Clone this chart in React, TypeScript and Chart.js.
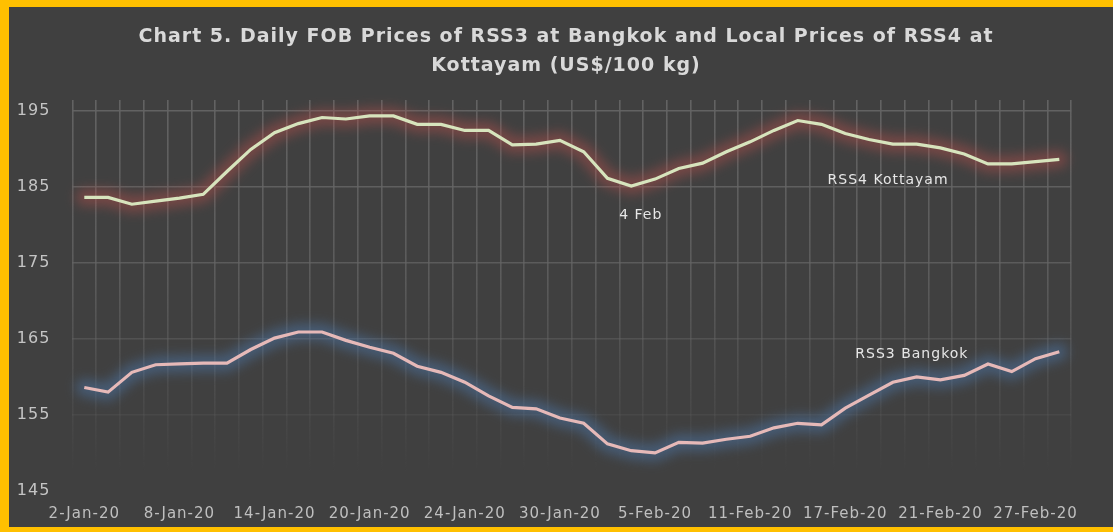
import React, { useEffect, useRef } from "react";
import { Chart, registerables } from "chart.js";

Chart.register(...registerables);

const dates = [
  "2-Jan-20", "3-Jan-20", "6-Jan-20", "7-Jan-20", "8-Jan-20", "9-Jan-20", "10-Jan-20",
  "13-Jan-20", "14-Jan-20", "15-Jan-20", "16-Jan-20", "17-Jan-20", "20-Jan-20", "21-Jan-20",
  "22-Jan-20", "23-Jan-20", "24-Jan-20", "27-Jan-20", "28-Jan-20", "29-Jan-20", "30-Jan-20",
  "31-Jan-20", "3-Feb-20", "4-Feb-20", "5-Feb-20", "6-Feb-20", "7-Feb-20", "10-Feb-20",
  "11-Feb-20", "12-Feb-20", "13-Feb-20", "14-Feb-20", "17-Feb-20", "18-Feb-20", "19-Feb-20",
  "20-Feb-20", "21-Feb-20", "24-Feb-20", "25-Feb-20", "26-Feb-20", "27-Feb-20", "28-Feb-20",
];

const rss4Kottayam = [
  183.6, 183.6, 182.7, 183.1, 183.5, 184.0, 187.0, 189.9, 192.1, 193.3,
  194.1, 193.9, 194.3, 194.3, 193.2, 193.2, 192.4, 192.4, 190.5, 190.6,
  191.1, 189.6, 186.1, 185.1, 186.0, 187.4, 188.1, 189.6, 190.9, 192.4,
  193.7, 193.2, 192.0, 191.2, 190.6, 190.6, 190.1, 189.3, 188.0, 188.0,
  188.3, 188.6,
];

const rss3Bangkok = [
  158.6, 158.0, 160.6, 161.6, 161.7, 161.8, 161.8, 163.6, 165.1, 165.9,
  165.9, 164.8, 163.9, 163.1, 161.4, 160.6, 159.3, 157.5, 156.0, 155.8,
  154.6, 153.9, 151.2, 150.3, 150.0, 151.4, 151.3, 151.8, 152.2, 153.3,
  153.9, 153.7, 155.9, 157.6, 159.3, 160.0, 159.6, 160.2, 161.7, 160.7,
  162.4, 163.3,
];

const yTicks = [145, 155, 165, 175, 185, 195];
const labelEvery = 4;

const titleLines = [
  "Chart 5. Daily FOB Prices of RSS3 at Bangkok and Local Prices of RSS4 at",
  "Kottayam (US$/100 kg)",
];

const annotationTexts = ["4 Feb", "RSS4 Kottayam", "RSS3 Bangkok"];
const annotationIndex = [23.4, 33.8, 34.8];
const annotationValue = [181.2, 185.9, 162.9];

const glowColors = ["rgba(192,80,77,0.42)", "rgba(79,129,189,0.42)"];

export default function App() {
  const ref = useRef<HTMLCanvasElement | null>(null);

  useEffect(() => {
    if (!ref.current) return;
    let grad: CanvasGradient | null = null;
    let gradKey = "";
    const gridColor = (c: any) => {
      const chart = c.chart;
      const area = chart.chartArea;
      if (!area) return "rgba(95,95,95,0.9)";
      const key = area.top + "-" + area.bottom;
      if (!grad || key !== gradKey) {
        const g = chart.ctx.createLinearGradient(0, area.top, 0, area.bottom);
        g.addColorStop(0, "rgba(100,100,100,0.95)");
        g.addColorStop(0.45, "rgba(100,100,100,0.75)");
        g.addColorStop(0.75, "rgba(100,100,100,0.3)");
        g.addColorStop(0.95, "rgba(100,100,100,0)");
        g.addColorStop(1, "rgba(100,100,100,0)");
        grad = g;
        gradKey = key;
      }
      return grad;
    };

    const spacingPlugin = {
      id: "spacing",
      beforeUpdate(chart: any) {
        chart.ctx.letterSpacing = "1px";
      },
      beforeDraw(chart: any) {
        chart.ctx.letterSpacing = "1px";
      },
    };

    const titlePlugin = {
      id: "customTitle",
      afterDraw(chart: any) {
        const ctx = chart.ctx;
        ctx.save();
        ctx.font = "bold 19px 'DejaVu Sans'";
        ctx.fillStyle = "#d9d9d9";
        ctx.textAlign = "center";
        ctx.textBaseline = "middle";
        const cx = chart.width / 2 + 5;
        ctx.fillText(titleLines[0], cx, 30);
        ctx.fillText(titleLines[1], cx, 59);
        ctx.restore();
      },
    };

    const glowPlugin = {
      id: "glow",
      beforeDatasetDraw(chart: any, args: any) {
        const ctx = chart.ctx;
        const pts = chart.getDatasetMeta(args.index).data;
        if (!pts || !pts.length) return;
        ctx.save();
        ctx.filter = "blur(6px)";
        ctx.strokeStyle = glowColors[args.index];
        ctx.lineWidth = 17;
        ctx.lineJoin = "round";
        ctx.lineCap = "round";
        ctx.beginPath();
        pts.forEach((p: any, i: number) => {
          if (i === 0) ctx.moveTo(p.x, p.y);
          else ctx.lineTo(p.x, p.y);
        });
        ctx.stroke();
        ctx.restore();
      },
    };

    const annotationPlugin = {
      id: "annot",
      afterDatasetsDraw(chart: any) {
        const ctx = chart.ctx;
        const xs = chart.scales.x;
        const ys = chart.scales.y;
        ctx.save();
        ctx.font = "14px 'DejaVu Sans'";
        ctx.fillStyle = "#e6e6e6";
        ctx.textAlign = "center";
        ctx.textBaseline = "middle";
        annotationTexts.forEach((t, i) => {
          ctx.fillText(t, xs.getPixelForValue(annotationIndex[i]), ys.getPixelForValue(annotationValue[i]));
        });
        ctx.restore();
      },
    };

    const chart = new Chart(ref.current, {
      type: "line",
      data: {
        labels: dates,
        datasets: [
          {
            label: "RSS4 Kottayam",
            data: rss4Kottayam,
            borderColor: "#d7e4bd",
            borderWidth: 3.2,
            pointRadius: 0,
            tension: 0,
            fill: false,
          },
          {
            label: "RSS3 Bangkok",
            data: rss3Bangkok,
            borderColor: "#e6b9b8",
            borderWidth: 3.2,
            pointRadius: 0,
            tension: 0,
            fill: false,
          },
        ],
      },
      options: {
        animation: false,
        responsive: false,
        maintainAspectRatio: false,
        layout: { padding: { left: 0, right: 41.8, top: 93, bottom: 0 } },
        plugins: {
          legend: { display: false },
          tooltip: { enabled: false },
          title: { display: false },
        },
        scales: {
          x: {
            type: "category",
            offset: true,
            grid: { display: true, offset: true, color: gridColor as any, lineWidth: 1.6, drawTicks: false },
            border: { display: false },
            ticks: {
              autoSkip: false,
              maxRotation: 0,
              minRotation: 0,
              padding: 14,
              color: "#bfbfbf",
              font: { family: "'DejaVu Sans'", size: 15 },
              callback: (_v: any, i: number) => (i % labelEvery === 0 ? dates[i] : ""),
            },
            afterFit: (s: any) => {
              s.height = 36;
            },
          },
          y: {
            min: 145,
            max: 196.4,
            grid: { color: gridColor as any, lineWidth: 1.6, drawTicks: false },
            border: { display: false },
            ticks: {
              stepSize: 10,
              padding: 22,
              color: "#c4c4c4",
              font: { family: "'DejaVu Sans'", size: 16 },
            },
            afterBuildTicks: (s: any) => {
              s.ticks = yTicks.map((v) => ({ value: v }));
            },
            afterFit: (s: any) => {
              s.width = 63.4;
            },
          },
        },
      },
      plugins: [spacingPlugin, glowPlugin, annotationPlugin, titlePlugin],
    });
    return () => chart.destroy();
  }, []);

  return (
    <div
      style={{
        position: "fixed",
        left: 0,
        top: 0,
        width: 1113,
        height: 532,
        boxSizing: "border-box",
        background: "#FFC000",
        padding: "7px 0 5px 9px",
      }}
    >
      <canvas
        ref={ref}
        width={1104}
        height={520}
        style={{ display: "block", width: 1104, height: 520, background: "#404040" }}
      />
    </div>
  );
}
